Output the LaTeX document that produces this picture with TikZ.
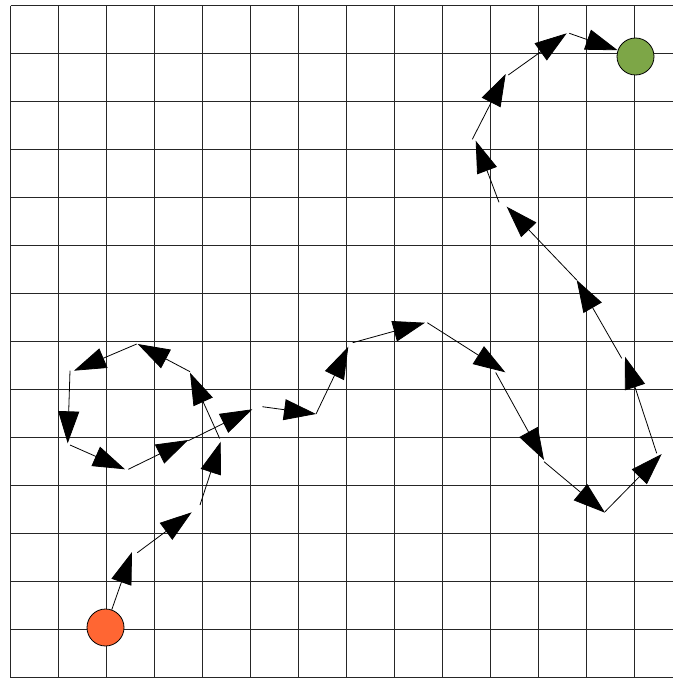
\documentclass[tikz,border=0pt]{standalone}
\usetikzlibrary{arrows.meta}
\definecolor{startc}{RGB}{255,102,51}
\definecolor{goalc}{RGB}{125,166,71}
\tikzset{
  gridline/.style={line width=1pt, black!85},
  walk/.style={line width=0.8pt, black, -{Triangle[length=32pt,width=21pt]}},
  endpoint/.style={circle, draw=black, line width=0.8pt, inner sep=0pt, minimum size=37pt}
}
\begin{document}
\begin{tikzpicture}[x=1pt,y=-1pt]
\useasboundingbox (0,0) rectangle (673,679);
\begin{scope}
\clip (0,0) rectangle (673,679);
\foreach \k in {0,...,13} {
  \draw[gridline] ({10.5+48*\k},5.7) -- ({10.5+48*\k},677.7);
}
\foreach \k in {0,...,14} {
  \draw[gridline] (10.5,{5.7+48*\k}) -- (673,{5.7+48*\k});
}
\end{scope}
% end points
\node[endpoint, fill=startc] (start) at (105.5,627.5) {};
\node[endpoint, fill=goalc] (goal) at (635.5,56.5) {};
% walk coordinates
\coordinate (e1) at (132,552);
\coordinate (s2) at (137.3,552.7);
\coordinate (e2) at (191.7,512.3);
\coordinate (s3) at (200,505);
\coordinate (e3) at (220.7,441.7);
\coordinate (s4) at (219.7,438.5);
\coordinate (e4) at (190,372.7);
\coordinate (s5) at (190,371.7);
\coordinate (e5) at (137.7,344);
\coordinate (s6) at (136.7,344);
\coordinate (e6) at (74,370.7);
\coordinate (s7) at (70,370.7);
\coordinate (e7) at (67.7,443.3);
\coordinate (s8) at (70,445);
\coordinate (e8) at (125,469.3);
\coordinate (s9) at (128.3,469.3);
\coordinate (e9) at (188.3,440);
\coordinate (s10) at (188.3,440.7);
\coordinate (e10) at (252.3,409.3);
\coordinate (s11) at (262.3,406.7);
\coordinate (e11) at (316,414);
\coordinate (s12) at (316,414);
\coordinate (e12) at (348.3,346.7);
\coordinate (s13) at (352.7,342.7);
\coordinate (e13) at (425,322.7);
\coordinate (s14) at (427.3,322.7);
\coordinate (e14) at (505.3,372.3);
\coordinate (s15) at (495.7,372.5);
\coordinate (e15) at (544,460);
\coordinate (s16) at (544,461.7);
\coordinate (e16) at (605,512.7);
\coordinate (s17) at (605,511.7);
\coordinate (e17) at (661.7,454);
\coordinate (s18) at (656.7,453.3);
\coordinate (e18) at (625,356.7);
\coordinate (s19) at (621.7,358.3);
\coordinate (e19) at (576.7,280);
\coordinate (s20) at (576.7,280);
\coordinate (e20) at (506.7,206.7);
\coordinate (s21) at (499,202.3);
\coordinate (e21) at (475.7,140.7);
\coordinate (s22) at (472.3,139.3);
\coordinate (e22) at (505.7,74);
\coordinate (s23) at (508.3,75);
\coordinate (e23) at (566.7,33.3);
\coordinate (s24) at (569.3,33.3);
% walk segments
\draw[walk] (start) -- (e1);
\foreach \i/\j in {2/2,3/3,4/4,5/5,6/6,7/7,8/8,9/9,10/10,11/11,12/12,13/13,14/14,15/15,16/16,17/17,18/18,19/19,20/20,21/21,22/22,23/23} {
  \draw[walk] (s\i) -- (e\j);
}
\draw[walk] (s24) -- (goal);
\end{tikzpicture}
\end{document}
